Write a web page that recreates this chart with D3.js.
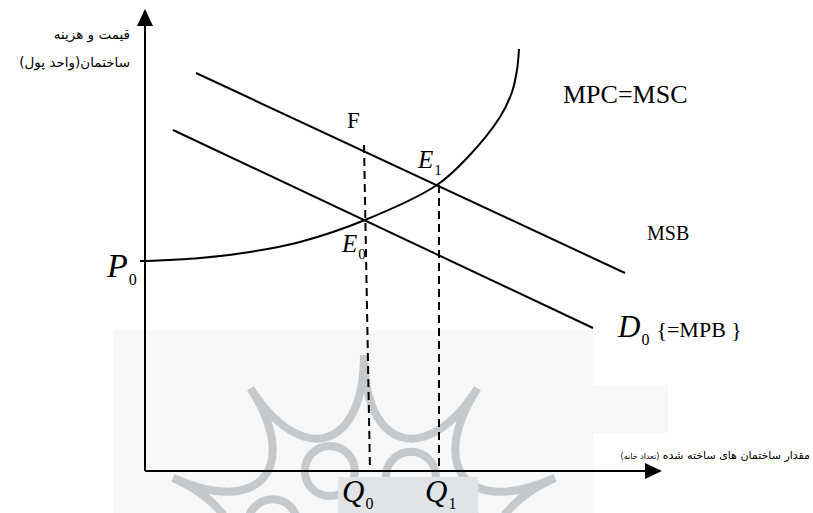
<!DOCTYPE html>
<html>
<head>
<meta charset="utf-8">
<script src="https://cdn.jsdelivr.net/npm/d3@7/dist/d3.min.js"></script>
<style>
  body { margin: 0; background: #fff; }
  svg { display: block; }
  .serif { font-family: "Liberation Serif", "Times New Roman", serif; fill: #000; }
  .fa { font-family: "DejaVu Sans", sans-serif; fill: #000; }
</style>
</head>
<body>
<div id="chart"></div>
<script>
// diagram values, in the diagram's own units (quantity, price)
var mpcCurve = [[0, 42], [11, 42.6], [21, 43.8], [31, 45.8], [44, 50.2], [58.4, 57.2],
                [64.6, 62.8], [71, 70.8], [73.4, 75.8], [74.4, 80.2], [74.8, 84.4]];
var msbLine = [[10.2, 79.6], [96, 39.6]];
var d0Line = [[5.6, 68.2], [89.6, 28.6]];
var e0 = [44, 50.2];
var e1 = [58.4, 57.2];
var q0Guide = [[43.8, 65.2], [45, 0]];
var q1Guide = [[58.8, 57.2], [58.8, 0]];
var p0 = 42;
var xMax = 103.4, yMax = 92.4;

var yTitle = ["قیمت و هزینه", "ساختمان(واحد پول)"];
var xTitle = "مقدار ساختمان های ساخته شده ";
var xTitleNote = "(تعداد خانه)";

var width = 813, height = 513;
var margin = {top: 9, right: 151, bottom: 42, left: 145};

var x = d3.scaleLinear()
    .domain([0, xMax])
    .range([margin.left, width - margin.right]);

var y = d3.scaleLinear()
    .domain([0, yMax])
    .range([height - margin.bottom, margin.top]);

var svg = d3.select("#chart").append("svg")
    .attr("width", width)
    .attr("height", height);

// faint watermark of the source page, behind the diagram
var wm = svg.append("g").attr("class", "watermark");
wm.append("rect")
    .attr("x", 113).attr("y", 331).attr("width", 480).attr("height", 182)
    .attr("fill", "#f5f7f8");
wm.append("rect")
    .attr("x", 593).attr("y", 385).attr("width", 75).attr("height", 48)
    .attr("fill", "#f5f7f8");

var wcx = 364, wcy = 565, wR = 210, wIn = 115, nTips = 11;
function polar(r, i) {
  var a = -Math.PI / 2 + i * 2 * Math.PI / nTips;
  return [wcx + r * Math.cos(a), wcy + r * Math.sin(a)];
}
var star = "M" + polar(wR, 0);
for (var i = 1; i <= nTips; i++) {
  star += "C" + polar(wIn, i - 1) + " " + polar(wIn, i) + " " + polar(wR, i);
}
wm.append("path")
    .attr("d", star)
    .attr("fill", "none")
    .attr("stroke", "#c3c9cd")
    .attr("stroke-width", 8);

wm.selectAll(".ring")
    .data([-156, -110, -62, -18])
  .enter().append("circle")
    .attr("class", "ring")
    .attr("cx", function(d) { return wcx + 100 * Math.cos(d * Math.PI / 180); })
    .attr("cy", function(d) { return wcy + 100 * Math.sin(d * Math.PI / 180); })
    .attr("r", 25)
    .attr("fill", "none")
    .attr("stroke", "#c3c9cd")
    .attr("stroke-width", 8);

// patch behind the Q labels
wm.append("rect")
    .attr("x", 338).attr("y", 477).attr("width", 140).attr("height", 36)
    .attr("fill", "#e0e4e6");

// axes with arrow heads
var ax = svg.append("g").attr("class", "axes");
ax.append("line")
    .attr("x1", x(0)).attr("y1", y(0))
    .attr("x2", x(0)).attr("y2", y(yMax) + 10)
    .attr("stroke", "#000").attr("stroke-width", 2);
ax.append("line")
    .attr("x1", x(0)).attr("y1", y(0))
    .attr("x2", x(xMax) - 10).attr("y2", y(0))
    .attr("stroke", "#000").attr("stroke-width", 2);
ax.append("path")
    .attr("d", "M" + x(0) + "," + y(yMax) + "L" + (x(0) - 8) + "," + (y(yMax) + 17) +
               "L" + (x(0) + 8) + "," + (y(yMax) + 17) + "Z")
    .attr("fill", "#000");
ax.append("path")
    .attr("d", "M" + x(xMax) + "," + y(0) + "L" + (x(xMax) - 17) + "," + (y(0) - 8) +
               "L" + (x(xMax) - 17) + "," + (y(0) + 8) + "Z")
    .attr("fill", "#000");

// P0 tick
ax.append("line")
    .attr("x1", x(-1)).attr("y1", y(p0))
    .attr("x2", x(0)).attr("y2", y(p0))
    .attr("stroke", "#000").attr("stroke-width", 2);

var line = d3.line()
    .x(function(d) { return x(d[0]); })
    .y(function(d) { return y(d[1]); });

// dashed guides
svg.selectAll(".guide")
    .data([q0Guide, q1Guide])
  .enter().append("path")
    .attr("class", "guide")
    .attr("d", line)
    .attr("fill", "none")
    .attr("stroke", "#000")
    .attr("stroke-width", 2)
    .attr("stroke-dasharray", "8,5");

// MSB and D0 lines
svg.selectAll(".demand")
    .data([msbLine, d0Line])
  .enter().append("path")
    .attr("class", "demand")
    .attr("d", line)
    .attr("fill", "none")
    .attr("stroke", "#000")
    .attr("stroke-width", 2);

// MPC = MSC curve
svg.append("path")
    .datum(mpcCurve)
    .attr("d", line.curve(d3.curveCatmullRom.alpha(0.5)))
    .attr("fill", "none")
    .attr("stroke", "#000")
    .attr("stroke-width", 2);

// labels: letter, subscript, anchor point and pixel offset
function symbol(main, sub, at, dx, dy, size, subSize, subDy) {
  var t = svg.append("text")
      .attr("class", "serif")
      .attr("x", x(at[0]) + dx)
      .attr("y", y(at[1]) + dy)
      .style("font-size", size + "px");
  t.append("tspan")
      .attr("font-style", sub === null ? "normal" : "italic")
      .text(main);
  if (sub !== null) {
    t.append("tspan")
        .attr("dx", 1)
        .attr("dy", subDy)
        .style("font-size", subSize + "px")
        .text(sub);
  }
  return t;
}

symbol("F", null, q0Guide[0], -17, -17, 23, 0, 0);
symbol("E", "1", e1, -19, -17, 25, 15, 7);
symbol("E", "0", e0, -23, 32, 25, 15, 7);
symbol("P", "0", [0, p0], -38, 16, 34, 16, 8);
symbol("Q", "0", q0Guide[1], -28, 31, 31, 16, 7);
symbol("Q", "1", q1Guide[1], -14, 31, 31, 16, 7);

var dLabel = symbol("D", "0", d0Line[1], 25, 9, 31, 16, 8);
dLabel.append("tspan")
    .attr("dx", 7)
    .attr("dy", -8)
    .style("font-size", "22px")
    .text("{=MPB }");

svg.append("text")
    .attr("class", "serif")
    .attr("x", x(msbLine[1][0]) + 22)
    .attr("y", y(msbLine[1][1]) - 33)
    .style("font-size", "20px")
    .text("MSB");

svg.append("text")
    .attr("class", "serif")
    .attr("x", x(mpcCurve[mpcCurve.length - 1][0]) + 44)
    .attr("y", y(mpcCurve[mpcCurve.length - 1][1]) + 54)
    .style("font-size", "26px")
    .text("MPC=MSC");

// axis titles (Persian, right to left)
svg.selectAll(".ytitle")
    .data(yTitle)
  .enter().append("text")
    .attr("class", "fa ytitle")
    .attr("direction", "rtl")
    .attr("text-anchor", "start")
    .attr("x", x(0) - 15)
    .attr("y", function(d, i) { return 39 + i * 28; })
    .style("font-size", "13.5px")
    .text(function(d) { return d; });

var xt = svg.append("text")
    .attr("class", "fa")
    .attr("direction", "rtl")
    .attr("text-anchor", "start")
    .attr("x", width - 3)
    .attr("y", y(0) - 12);
xt.append("tspan").style("font-size", "11px").text(xTitle);
xt.append("tspan").style("font-size", "8px").text(xTitleNote);
</script>
</body>
</html>
